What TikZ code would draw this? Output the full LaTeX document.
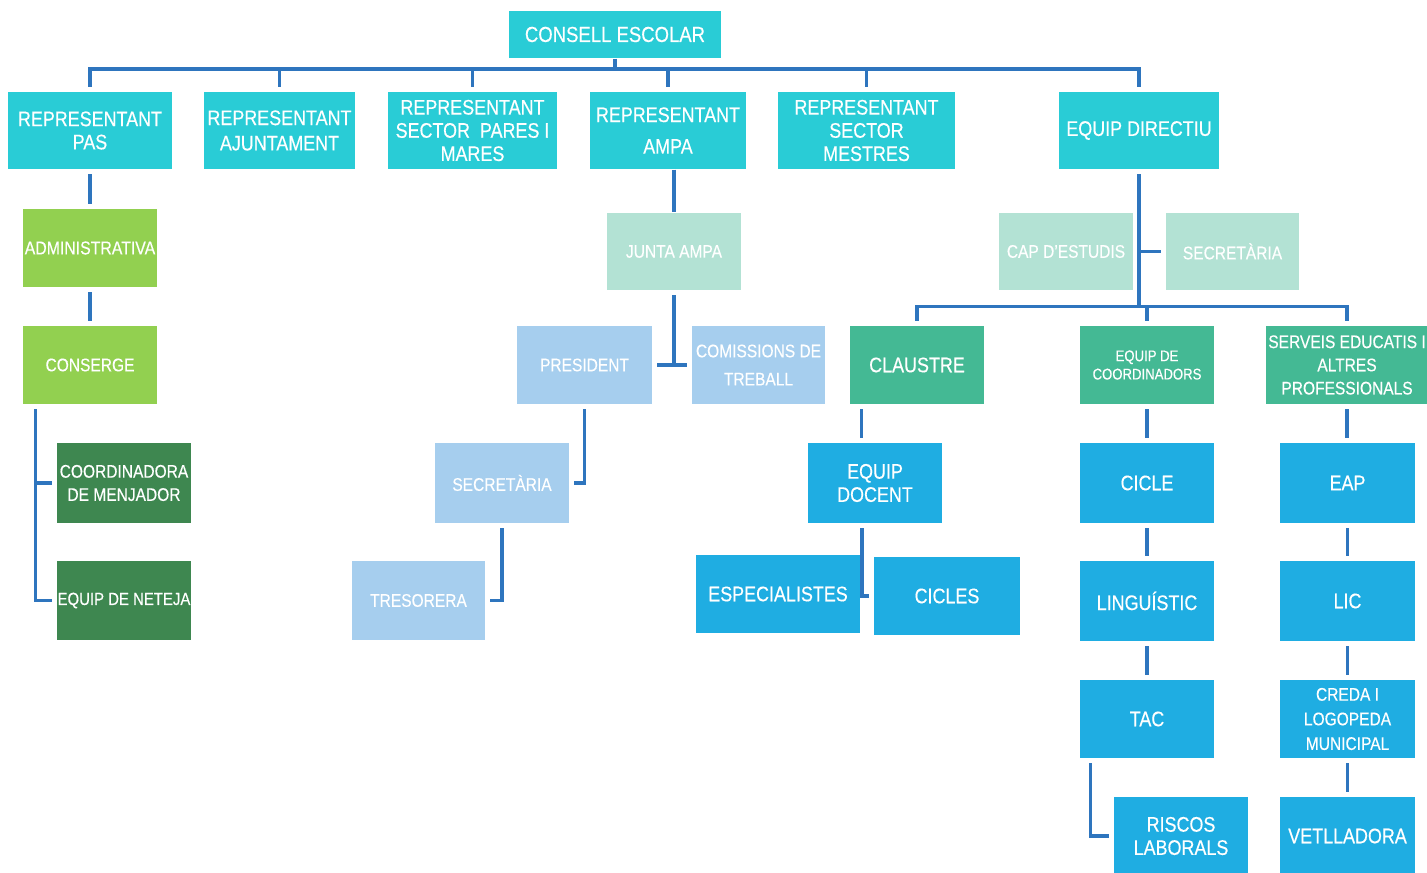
\documentclass[tikz,border=0pt]{standalone}
\usepackage{fontspec}
\setmainfont{Liberation Sans}[FakeStretch=0.85,FakeBold=0.35]
\usepackage{tikz}
\usepackage{xcolor}

\definecolor{cyanbox}{RGB}{41,204,214}
\definecolor{limebox}{RGB}{146,208,80}
\definecolor{forestbox}{RGB}{62,135,80}
\definecolor{mintbox}{RGB}{179,226,212}
\definecolor{skybox}{RGB}{166,206,238}
\definecolor{jadebox}{RGB}{68,185,148}
\definecolor{bluebox}{RGB}{31,173,226}
\definecolor{linkblue}{RGB}{46,117,190}

\begin{document}
\begin{tikzpicture}[
  box/.style={fill=#1,text=white,align=center,inner sep=0pt,minimum width=1.34cm,minimum height=0.78cm,font=\fontsize{6}{6.6}\selectfont},
  mid/.style={font=\fontsize{5.2}{6.6}\selectfont},
  tiny/.style={font=\fontsize{4.4}{5.2}\selectfont},
  link/.style={draw=linkblue,line width=0.9pt},
  gap/.style={shorten <=0.45mm,shorten >=0.45mm}
]
\useasboundingbox (0,0) rectangle (14.27,-8.73);

% consell and representants
\node[box=cyanbox,minimum width=2.12cm,minimum height=0.47cm,font=\fontsize{6.2}{7}\selectfont] (consell) at (6.15,-0.345) {CONSELL ESCOLAR};
\node[box=cyanbox,minimum width=1.64cm,minimum height=0.77cm] (pas) at (0.90,-1.305) {REPRESENTANT\\PAS};
\node[box=cyanbox,minimum width=1.51cm,minimum height=0.77cm] (ajunt) at (2.795,-1.305) {REPRESENTANT\\[0.6pt]AJUNTAMENT};
\node[box=cyanbox,minimum width=1.69cm,minimum height=0.77cm] (pares) at (4.725,-1.305) {REPRESENTANT\\SECTOR\ \ PARES I\\MARES};
\node[box=cyanbox,minimum width=1.56cm,minimum height=0.77cm] (ampa) at (6.68,-1.305) {REPRESENTANT\\[2.4pt]AMPA};
\node[box=cyanbox,minimum width=1.77cm,minimum height=0.77cm] (mestres) at (8.665,-1.305) {REPRESENTANT\\SECTOR\\MESTRES};
\node[box=cyanbox,minimum width=1.60cm,minimum height=0.77cm] (directiu) at (11.39,-1.305) {EQUIP DIRECTIU};

% PAS
\node[box=limebox,font=\fontsize{5.3}{6.4}\selectfont] (admin) at (0.90,-2.48) {ADMINISTRATIVA};
\node[box=limebox,mid] (conserge) at (0.90,-3.65) {CONSERGE};
\node[box=forestbox,mid,minimum height=0.80cm] (menjador) at (1.24,-4.83) {COORDINADORA\\DE MENJADOR};
\node[box=forestbox,font=\fontsize{5}{6}\selectfont,minimum height=0.79cm] (neteja) at (1.24,-6.005) {EQUIP DE NETEJA};

% AMPA
\node[box=mintbox,mid,minimum height=0.77cm] (junta) at (6.74,-2.515) {JUNTA AMPA};
\node[box=skybox,mid,minimum width=1.35cm] (president) at (5.845,-3.65) {PRESIDENT};
\node[box=skybox,mid,minimum width=1.33cm] (comissions) at (7.585,-3.65) {COMISSIONS DE\\[1.4pt]TREBALL};
\node[box=skybox,mid,minimum height=0.80cm] (secamp) at (5.02,-4.83) {SECRETÀRIA};
\node[box=skybox,mid,minimum width=1.33cm,minimum height=0.79cm] (tresorera) at (4.185,-6.005) {TRESORERA};

% equip directiu
\node[box=mintbox,mid,minimum height=0.77cm] (cap) at (10.66,-2.515) {CAP D'ESTUDIS};
\node[box=mintbox,mid,minimum width=1.33cm,minimum height=0.77cm] (secdir) at (12.325,-2.515) {SECRETÀRIA};
\node[box=jadebox] (claustre) at (9.17,-3.65) {CLAUSTRE};
\node[box=jadebox,tiny] (coord) at (11.47,-3.65) {EQUIP DE\\COORDINADORS};
\node[box=jadebox,mid,minimum width=1.62cm] (serveis) at (13.47,-3.65) {SERVEIS EDUCATIS I\\ALTRES\\PROFESSIONALS};

\node[box=bluebox,minimum height=0.80cm] (docent) at (8.75,-4.83) {EQUIP\\DOCENT};
\node[box=bluebox,minimum width=1.64cm] (especial) at (7.78,-5.94) {ESPECIALISTES};
\node[box=bluebox,minimum width=1.46cm] (cicles) at (9.47,-5.96) {CICLES};

\node[box=bluebox,minimum height=0.80cm] (cicle) at (11.47,-4.83) {CICLE};
\node[box=bluebox,minimum height=0.80cm] (ling) at (11.47,-6.01) {LINGUÍSTIC};
\node[box=bluebox] (tac) at (11.47,-7.19) {TAC};
\node[box=bluebox] (riscos) at (11.81,-8.36) {RISCOS\\LABORALS};

\node[box=bluebox,minimum width=1.35cm,minimum height=0.80cm] (eap) at (13.475,-4.83) {EAP};
\node[box=bluebox,minimum width=1.35cm,minimum height=0.80cm] (lic) at (13.475,-6.01) {LIC};
\node[box=bluebox,mid,minimum width=1.35cm,font=\fontsize{5.2}{7}\selectfont] (creda) at (13.475,-7.19) {CREDA I\\LOGOPEDA\\MUNICIPAL};
\node[box=bluebox,minimum width=1.35cm] (vetll) at (13.475,-8.36) {VETLLADORA};

% top bus
\draw[link] (consell.south) -- ++(0,-0.12);
\draw[link,line width=1.2pt,gap] (pas.north) -- ++(0,0.22) -| (directiu.north);
\foreach \n in {ajunt,pares,ampa,mestres}
  \draw[link,shorten <=0.45mm] (\n.north) -- ++(0,0.22);

% straight drops
\foreach \a/\b in {pas/admin,admin/conserge,coord/cicle,cicle/ling,ling/tac,serveis/eap,eap/lic,lic/creda,creda/vetll}
  \draw[link,gap] (\a.south) -- (\a.south |- \b.north);

% elbows
\draw[link,gap] ([xshift=1.3mm]conserge.south west) |- (menjador.west);
\draw[link,gap] ([xshift=1.3mm]conserge.south west) |- (neteja.west);
\draw[link] (ampa.south -| junta.north) -- (junta.north);
\draw[link,shorten <=0.45mm] (junta.south) -- (junta.south |- president.east);
\draw[link,gap] (president.east) -- (comissions.west);
\draw[link,gap] (president.south) |- (secamp.east);
\draw[link,gap] (secamp.south) |- (tresorera.east);

\draw[link,shorten <=0.45mm] (directiu.south) -- ++(0,-1.38);
\draw[link,shorten >=0.4mm] (directiu.south |- secdir.west) -- (secdir.west);
\draw[link,gap] (claustre.north) -- ++(0,0.19) -| (serveis.north);
\draw[link,shorten <=0.45mm] (coord.north) -- ++(0,0.19);
\draw[link,gap] ([xshift=1.2mm]claustre.south west) -- ([xshift=1.2mm]claustre.south west |- docent.north);
\draw[link,gap] ([xshift=-1.3mm]docent.south) |- (cicles.west);
\draw[link,gap] ([xshift=1.1mm]tac.south west) |- (riscos.west);
\end{tikzpicture}
\end{document}
